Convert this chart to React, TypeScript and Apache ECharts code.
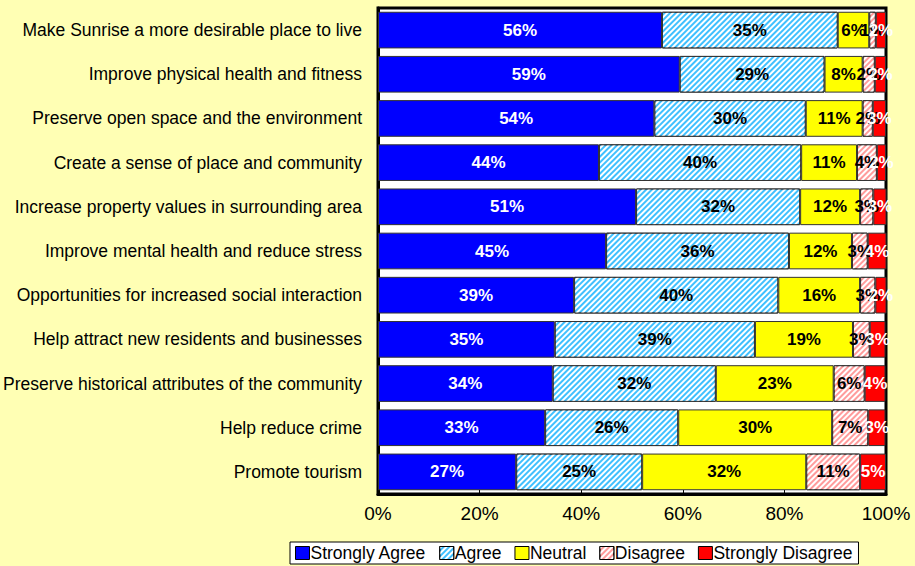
import React, { useEffect, useRef } from "react";
import * as echarts from "echarts";

const categories = [
  "Make Sunrise a more desirable place to live",
  "Improve physical health and fitness",
  "Preserve open space and the environment",
  "Create a sense of place and community",
  "Increase property values in surrounding area",
  "Improve mental health and reduce stress",
  "Opportunities for increased social interaction",
  "Help attract new residents and businesses",
  "Preserve historical attributes of the community",
  "Help reduce crime",
  "Promote tourism",
];

const stronglyAgree = [55.9, 59.4, 54.4, 43.5, 50.8, 44.9, 38.6, 34.8, 34.4, 32.9, 27.2];
const agree = [34.6, 28.5, 29.8, 39.8, 32.3, 36.0, 40.2, 39.4, 32.1, 26.2, 24.8];
const neutral = [6.2, 7.5, 11.2, 11.0, 11.8, 12.4, 16.1, 19.3, 23.2, 30.3, 32.3];
const disagree = [1.3, 2.4, 2.0, 3.9, 2.6, 3.1, 3.0, 3.3, 6.1, 7.1, 10.6];
const stronglyDisagree = [2.0, 2.2, 2.6, 1.8, 2.6, 3.7, 2.2, 3.1, 4.1, 3.4, 5.1];

const seriesNames = ["Strongly Agree", "Agree", "Neutral", "Disagree", "Strongly Disagree"];
const xTicks = [0, 20, 40, 60, 80, 100];

const FONT = "Arial, 'Liberation Sans', sans-serif";

export default function App() {
  const ref = useRef<HTMLDivElement>(null);

  useEffect(() => {
    document.body.style.margin = "0";
    if (!ref.current) return;
    const chart = echarts.init(ref.current, null, { renderer: "svg" });

    const stripe = (c: string) => ({
      symbol: "rect",
      symbolSize: 1,
      color: c,
      dashArrayX: [1, 0],
      dashArrayY: [2, 2],
      rotation: -Math.PI / 4,
    });

    const styles = [
      { color: "#0000FF", label: "#FFFFFF", decal: undefined as any },
      { color: "#3FC0FF", label: "#000000", decal: stripe("#FFFFFF") },
      { color: "#FFFF00", label: "#000000", decal: undefined },
      { color: "#FF9C9C", label: "#000000", decal: stripe("#FFFFFF") },
      { color: "#FF0000", label: "#FFFFFF", decal: undefined },
    ];
    const datasets = [stronglyAgree, agree, neutral, disagree, stronglyDisagree];

    const series = datasets.map((d, i) => ({
      name: seriesNames[i],
      type: "bar",
      stack: "total",
      data: d,
      barCategoryGap: "17%",
      itemStyle: {
        color: styles[i].color,
        borderColor: "#333333",
        borderWidth: 1,
        ...(styles[i].decal ? { decal: styles[i].decal } : {}),
      },
      label: {
        show: true,
        position: "inside",
        formatter: (p: any) => Math.round(p.value) + "%",
        color: styles[i].label,
        fontWeight: "bold",
        fontSize: 17,
        fontFamily: FONT,
      },
    }));

    chart.setOption({
      animation: false,
      backgroundColor: "#FFFFB4",
      grid: {
        show: true,
        left: 378,
        right: 29,
        top: 8,
        bottom: 72,
        backgroundColor: "#FFFFFF",
        borderColor: "#000000",
        borderWidth: 3,
      },
      legend: {
        data: seriesNames,
        left: 290,
        bottom: 2,
        itemWidth: 14,
        itemHeight: 13,
        itemGap: 13,
        padding: [2, 6, 2, 5],
        borderColor: "#000000",
        borderWidth: 1,
        backgroundColor: "#FFFFFF",
        icon: "rect",
        itemStyle: { borderColor: "#000000", borderWidth: 1 },
        textStyle: { fontSize: 17.5, fontFamily: FONT, color: "#000000", padding: [0, 0, 0, -4] },
      },
      xAxis: {
        type: "value",
        min: 0,
        max: 100,
        interval: 20,
        axisLabel: {
          formatter: (v: number) => (xTicks.includes(v) ? v + "%" : ""),
          fontSize: 19,
          fontFamily: FONT,
          color: "#000000",
          margin: 10,
        },
        axisLine: { show: true, lineStyle: { color: "#000000", width: 3 } },
        axisTick: { show: true, inside: true, length: 4, lineStyle: { color: "#000000" } },
        splitLine: { show: false },
      },
      yAxis: {
        type: "category",
        inverse: true,
        data: categories,
        axisLabel: { fontSize: 17.5, fontFamily: FONT, color: "#000000", margin: 16 },
        axisLine: { show: true, lineStyle: { color: "#000000", width: 3 } },
        axisTick: { show: false },
      },
      series,
    });

    return () => chart.dispose();
  }, []);

  return <div ref={ref} style={{ width: 915, height: 566 }} />;
}
